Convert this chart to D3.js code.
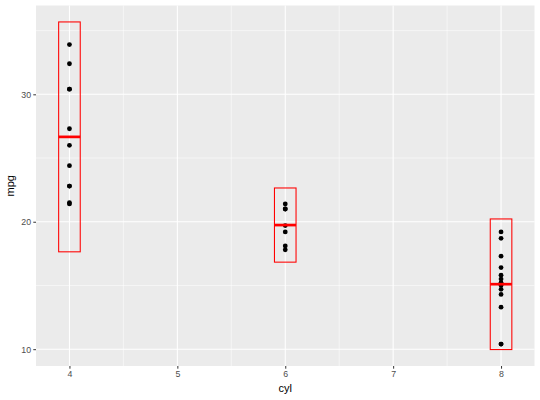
<!DOCTYPE html>
<html lang="en">
<head>
    <meta charset="UTF-8">
    <title>mpg by cyl</title>
    <style>
        body { margin: 0; background: #fff; }
        .tick text { font: 8.8px "Liberation Sans", Arial, sans-serif; fill: #4d4d4d; }
        .tick line { stroke: #333; }
        .axis path { display: none; }
        .title { font: 11px "Liberation Sans", Arial, sans-serif; fill: #000; }
    </style>
</head>
<body>
    <svg class="chart"></svg>
    <script src="https://d3js.org/d3.v7.min.js"></script>
    <script>
        // mtcars points (cyl, mpg)
        const cyl4 = [22.8, 24.4, 22.8, 32.4, 30.4, 33.9, 21.5, 27.3, 26.0, 30.4, 21.4];
        const cyl6 = [21.0, 21.0, 21.4, 18.1, 19.2, 17.8, 19.7];
        const cyl8 = [18.7, 14.3, 16.4, 17.3, 15.2, 10.4, 10.4, 14.7, 15.5, 15.2, 13.3, 19.2, 15.8, 15.0];

        // crossbar summary (mean, mean - 2sd, mean + 2sd)
        const groups = [4, 6, 8];
        const means = [26.66, 19.74, 15.10];
        const lower = [17.64, 16.83, 9.97];
        const upper = [35.68, 22.65, 20.22];

        const xTicks = [4, 5, 6, 7, 8];
        const yTicks = [10, 20, 30];

        const W = 540, H = 400;
        const margin = { top: 5.5, right: 5.5, bottom: 34, left: 36 };
        const width = W - margin.left - margin.right,
            height = H - margin.top - margin.bottom;

        const x = d3.scaleLinear().domain([3.69, 8.31]).range([0, width]);
        const y = d3.scaleLinear().domain([8.68, 36.97]).range([height, 0]);

        const svg = d3.select(".chart").attr("width", W).attr("height", H);
        const chart = svg.append("g").attr("transform", `translate(${margin.left},${margin.top})`);

        chart.append("rect").attr("width", width).attr("height", height).attr("fill", "#ebebeb");

        // minor grid
        const xMinor = d3.range(3.5, 8.6, 1).filter(v => v > 3.69 && v < 8.31);
        const yMinor = [15, 25, 35];
        chart.selectAll(".xminor").data(xMinor).enter().append("line")
            .attr("x1", d => x(d)).attr("x2", d => x(d)).attr("y1", 0).attr("y2", height)
            .attr("stroke", "#fff").attr("stroke-width", 0.53);
        chart.selectAll(".yminor").data(yMinor).enter().append("line")
            .attr("y1", d => y(d)).attr("y2", d => y(d)).attr("x1", 0).attr("x2", width)
            .attr("stroke", "#fff").attr("stroke-width", 0.53);
        // major grid
        chart.selectAll(".xmajor").data(xTicks).enter().append("line")
            .attr("x1", d => x(d)).attr("x2", d => x(d)).attr("y1", 0).attr("y2", height)
            .attr("stroke", "#fff").attr("stroke-width", 1.07);
        chart.selectAll(".ymajor").data(yTicks).enter().append("line")
            .attr("y1", d => y(d)).attr("y2", d => y(d)).attr("x1", 0).attr("x2", width)
            .attr("stroke", "#fff").attr("stroke-width", 1.07);

        // points
        const pts = [];
        [cyl4, cyl6, cyl8].forEach((arr, i) => arr.forEach(v => pts.push({ c: groups[i], v: v })));
        chart.selectAll(".pt").data(pts).enter().append("circle")
            .attr("cx", d => x(d.c)).attr("cy", d => y(d.v)).attr("r", 2.4).attr("fill", "#000");

        // crossbars
        const bars = groups.map((g, i) => ({ g: g, m: means[i], lo: lower[i], hi: upper[i] }));
        const bw = 0.1;
        chart.selectAll(".bar").data(bars).enter().append("rect")
            .attr("x", d => x(d.g - bw)).attr("width", d => x(d.g + bw) - x(d.g - bw))
            .attr("y", d => y(d.hi)).attr("height", d => y(d.lo) - y(d.hi))
            .attr("fill", "none").attr("stroke", "red").attr("stroke-width", 1.07);
        chart.selectAll(".mid").data(bars).enter().append("line")
            .attr("x1", d => x(d.g - bw)).attr("x2", d => x(d.g + bw))
            .attr("y1", d => y(d.m)).attr("y2", d => y(d.m))
            .attr("stroke", "red").attr("stroke-width", 2.7);

        // axes
        chart.append("g").attr("class", "axis")
            .attr("transform", `translate(0,${height})`)
            .call(d3.axisBottom(x).tickValues(xTicks).tickSize(2.7).tickPadding(2.2).tickFormat(d3.format("d")));
        chart.append("g").attr("class", "axis")
            .call(d3.axisLeft(y).tickValues(yTicks).tickSize(2.7).tickPadding(2.2));

        svg.append("text").attr("class", "title")
            .attr("x", margin.left + width / 2).attr("y", H - 8)
            .attr("text-anchor", "middle").text("cyl");
        svg.append("text").attr("class", "title")
            .attr("transform", `translate(14,${margin.top + height / 2}) rotate(-90)`)
            .attr("text-anchor", "middle").text("mpg");
    </script>
</body>
</html>
